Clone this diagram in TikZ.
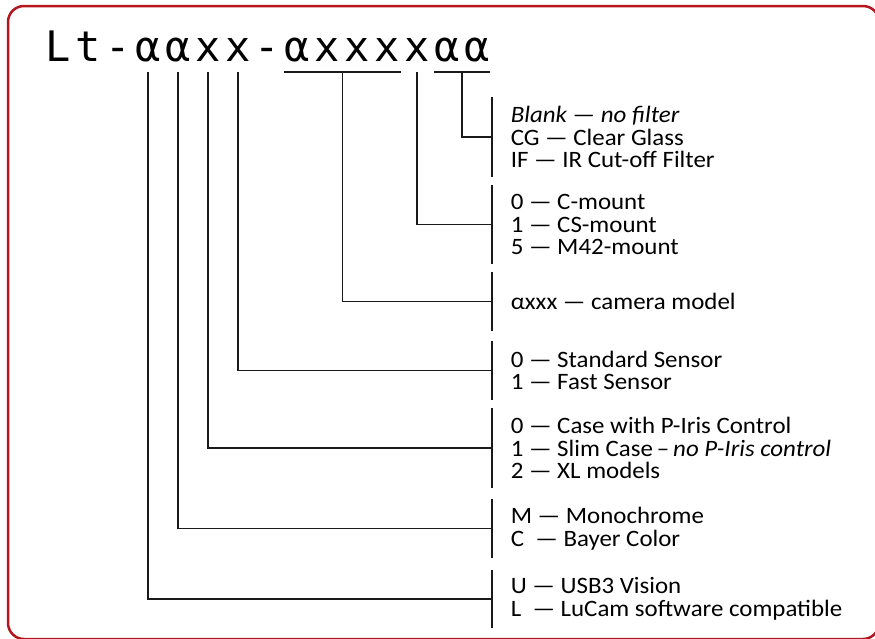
\documentclass[tikz,border=0pt]{standalone}
\usepackage{fontspec}
\setmainfont{Carlito}[FakeStretch=1.06]
\newfontfamily\codefont{DejaVu Sans Mono}
\usetikzlibrary{calc}
\definecolor{framered}{HTML}{B5161E}
\definecolor{linegray}{HTML}{1A1A1A}

\begin{document}
\begin{tikzpicture}[x=1pt, y=-1pt, line width=1.6pt,
  titlechar/.style={inner sep=0pt, anchor=base, font=\codefont\fontsize{42}{42}\selectfont},
  entry/.style={anchor=west, align=left, inner xsep=18pt, inner ysep=0pt,
    font=\fontsize{23.5}{22.5}\selectfont}]
  \useasboundingbox (0,0) rectangle (875,638);
  \draw[framered, line width=2.5pt, rounded corners=16pt] (8,6) rectangle (879,639);

  % part number, one node per character
  \foreach \ch [count=\i] in {L,t,-,α,α,x,x,-,α,x,x,x,x,α,α}
    \node[titlechar] (c\i) at ({58.3+29.9*(\i-1)},61) {\ch};

  % option lists
  \node[entry, minimum height=78pt] (filter) at (492,137)
    {\textit{Blank — no filter}\\CG — Clear Glass\\IF — IR Cut-off Filter};
  \node[entry, minimum height=77pt] (mount) at (492,224.5)
    {0 — C-mount\\1 — CS-mount\\5 — M42-mount};
  \node[entry, minimum height=57pt] (model) at (492,301.5) {αxxx — camera model};
  \node[entry, minimum height=57pt] (sensor) at (492,370.5)
    {0 — Standard Sensor\\1 — Fast Sensor};
  \node[entry, minimum height=78pt] (case) at (492,448)
    {0 — Case with P-Iris Control\\1 — Slim Case\,–\,\textit{no P-Iris control}\\2 — XL models};
  \node[entry, minimum height=57pt] (color) at (492,528.5)
    {M — Monochrome\\C\ \ — Bayer Color};
  \node[entry, minimum height=56pt] (iface) at (492,599)
    {U — USB3 Vision\\L\ \ — LuCam software compatible};

  \foreach \g in {filter,mount,model,sensor,case,color,iface}
    \draw[linegray] (\g.north west) -- (\g.south west);

  % underlines of the grouped characters
  \draw[linegray] ([yshift=-11pt]c9.base west) -- ([yshift=-11pt]c12.base east);
  \draw[linegray] ([yshift=-11pt]c14.base west) -- ([yshift=-11pt]c15.base east);
  \coordinate (modelmid) at ($([yshift=-11pt]c9.base west)!0.5!([yshift=-11pt]c12.base east)$);
  \coordinate (filtermid) at ($([yshift=-11pt]c14.base west)!0.5!([yshift=-11pt]c15.base east)$);

  % leaders
  \draw[linegray] (filtermid) |- (filter.west);
  \draw[linegray] (c13.base) ++(0,11) |- (mount.west);
  \draw[linegray] (modelmid) |- (model.west);
  \draw[linegray] (c7.base) ++(0,11) |- (sensor.west);
  \draw[linegray] (c6.base) ++(0,11) |- (case.west);
  \draw[linegray] (c5.base) ++(0,11) |- (color.west);
  \draw[linegray] (c4.base) ++(0,11) |- (iface.west);
\end{tikzpicture}
\end{document}
